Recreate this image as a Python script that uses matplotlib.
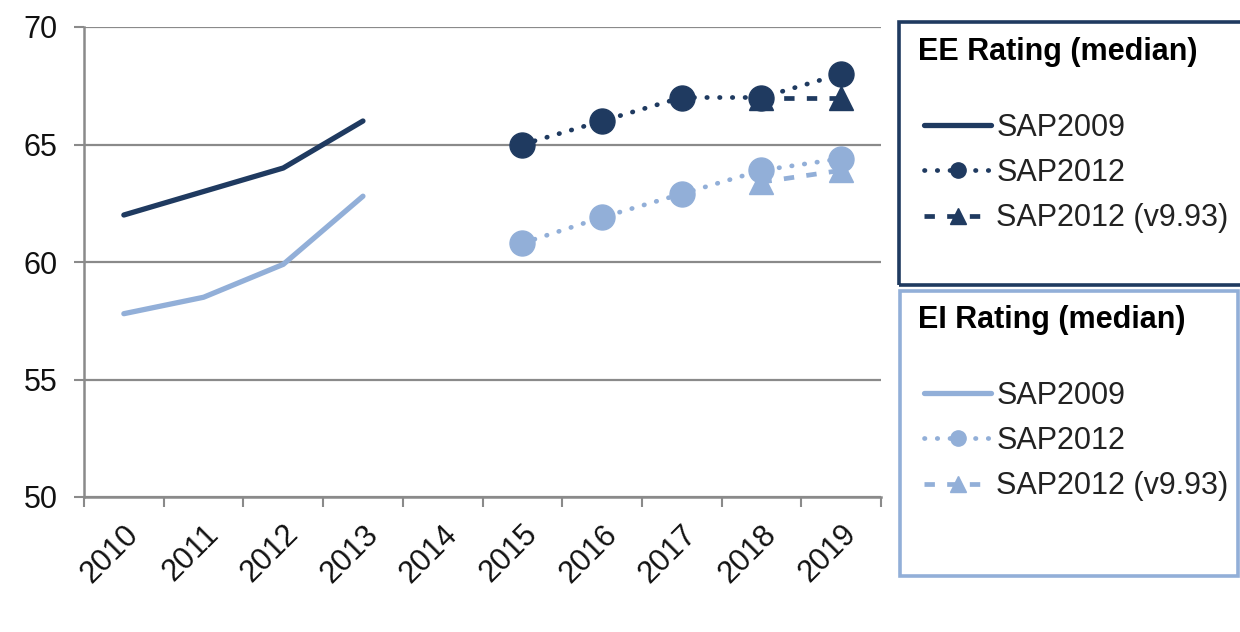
import numpy as np
import matplotlib
matplotlib.use("Agg")
import matplotlib.pyplot as plt
from matplotlib.patches import Rectangle
from matplotlib.transforms import ScaledTranslation

plt.rcParams['font.family'] = ['Liberation Sans', 'DejaVu Sans']

years = ['2010', '2011', '2012', '2013', '2014', '2015', '2016', '2017', '2018', '2019']
nan = np.nan

# EE rating (median)
ee_sap2009 = [62.0, 63.0, 64.0, 66.0, nan, nan, nan, nan, nan, nan]
ee_sap2012 = [nan, nan, nan, nan, nan, 65.0, 66.0, 67.0, 67.0, 68.0]
ee_sap2012_v993 = [nan, nan, nan, nan, nan, nan, nan, nan, 67.0, 67.0]

# EI rating (median)
ei_sap2009 = [57.8, 58.5, 59.9, 62.8, nan, nan, nan, nan, nan, nan]
ei_sap2012 = [nan, nan, nan, nan, nan, 60.8, 61.9, 62.9, 63.9, 64.4]
ei_sap2012_v993 = [nan, nan, nan, nan, nan, nan, nan, nan, 63.4, 63.9]

series_labels = ['SAP2009', 'SAP2012', 'SAP2012 (v9.93)']

DARK = '#1f3a60'
LIGHT = '#92afd8'
GRID = '#8a8a8a'
FS = 22

W, H = 1240, 632
fig = plt.figure(figsize=(W / 100, H / 100), dpi=100)
ax = fig.add_axes([84 / W, 1 - 497 / H, (881 - 84) / W, (497 - 27) / H])

x = np.arange(len(years))
dotted = (0, (0.1, 2.6))
dashed = (0, (2.2, 2.6))


def draw_group(vals09, vals12, vals993, color):
    l1, = ax.plot(x, vals09, color=color, lw=3.8, solid_capstyle='round', zorder=3)
    l2, = ax.plot(x, vals12, color=color, lw=3.4, linestyle=dotted,
                  dash_capstyle='round', marker='o', markersize=18, zorder=3)
    l3, = ax.plot(x, vals993, color=color, lw=3.4, linestyle=dashed,
                  marker='^', markersize=17, zorder=4)
    return [l1, l2, l3]


ee_handles = draw_group(ee_sap2009, ee_sap2012, ee_sap2012_v993, DARK)
ei_handles = draw_group(ei_sap2009, ei_sap2012, ei_sap2012_v993, LIGHT)

ax.set_xlim(-0.5, len(years) - 0.5)
ax.set_ylim(50, 70)
ax.set_yticks([50, 55, 60, 65, 70])
ax.yaxis.grid(True, color=GRID, lw=1.6)
ax.set_axisbelow(True)

# category ticks sit between the year labels
ax.set_xticks(np.arange(-0.5, len(years) + 0.5, 1.0))
ax.set_xticklabels([])
ax.set_xticks(x, minor=True)
ax.set_xticklabels(years, minor=True, rotation=45, ha='right', va='top',
                   rotation_mode='anchor', fontsize=FS, color='#111111')
shift = ScaledTranslation(-6 / 100, 0, fig.dpi_scale_trans)
for lbl in ax.get_xticklabels(minor=True):
    lbl.set_transform(lbl.get_transform() + shift)
ax.tick_params(axis='x', which='minor', length=0, pad=16)
ax.tick_params(axis='x', which='major', length=7, width=1.5, color=GRID)
ax.tick_params(axis='y', length=7, width=1.5, color=GRID, labelsize=FS,
               labelcolor='#111111', pad=12)

for side in ('top', 'right'):
    ax.spines[side].set_visible(False)
for side in ('left', 'bottom'):
    ax.spines[side].set_color(GRID)
    ax.spines[side].set_linewidth(1.8)

# legend panels
fig.patches.append(Rectangle((899 / W, 1 - 285 / H), (1250 - 899) / W, (285 - 22) / H,
                             transform=fig.transFigure, fill=False,
                             edgecolor=DARK, lw=2.6))
fig.patches.append(Rectangle((900 / W, 1 - 576 / H), (1238 - 900) / W, (576 - 291) / H,
                             transform=fig.transFigure, fill=False,
                             edgecolor=LIGHT, lw=2.6))

fig.text(918 / W, 1 - 52 / H, 'EE Rating (median)', fontsize=FS, fontweight='bold',
         va='center', ha='left', color='black')
fig.text(918 / W, 1 - 320 / H, 'EI Rating (median)', fontsize=FS, fontweight='bold',
         va='center', ha='left', color='black')


def add_legend(handles, y_mid):
    leg = fig.legend(handles, series_labels, loc='center left',
                     bbox_to_anchor=(924 / W, 1 - y_mid / H), frameon=False,
                     fontsize=FS, handlelength=2.2, handletextpad=0.16,
                     labelspacing=0.5, borderpad=0, borderaxespad=0)
    for t in leg.get_texts():
        t.set_color('#222222')
    for h in leg.legend_handles:
        h.set_markersize(11)
    return leg


add_legend(ee_handles, 173)
add_legend(ei_handles, 441)

fig.savefig('out.png', dpi=100, facecolor='white')
